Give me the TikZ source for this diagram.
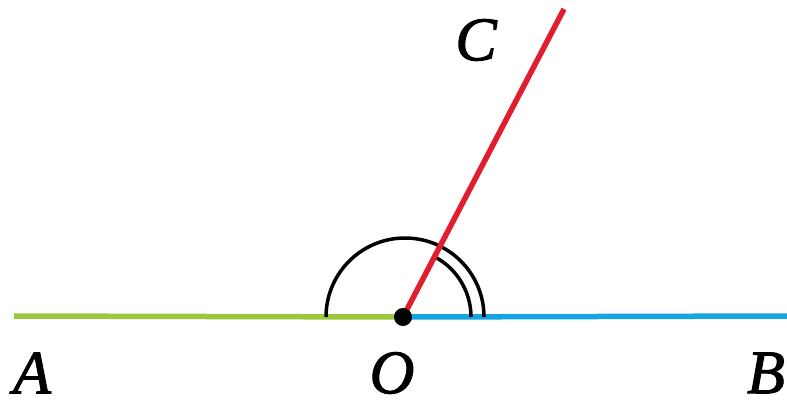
\documentclass[tikz,border=0pt]{standalone}
\usepackage{fontspec}
\setmainfont{Liberation Serif}
\newfontfamily\lblfont[FakeBold=1.6]{Liberation Serif}
\usetikzlibrary{calc}
\definecolor{lgreen}{RGB}{155,200,60}
\definecolor{lblue}{RGB}{20,165,225}
\definecolor{lred}{RGB}{225,30,45}
\begin{document}
\begin{tikzpicture}[x=1pt,y=-1pt,
  lbl/.style={font=\lblfont\fontsize{62}{62}\selectfont\itshape, inner sep=0pt},
  ray/.style={line width=5.5pt},
  arcline/.style={line width=3.5pt, black}]
\useasboundingbox (0,0) rectangle (787,405);
\coordinate (O) at (403,317);
\coordinate (A) at (14,316);
\coordinate (B) at (787,316);
\coordinate (C) at (564,9);
\draw[ray, lgreen] (A) -- (O);
\draw[ray, lblue] (O) -- (B);
\draw[arcline] ($(O)+(81,0)$) arc[start angle=0, end angle=-180, radius=79];
\draw[arcline] ($(O)+(68,0)$) arc[start angle=0, end angle=-62.3, radius=68];
\draw[ray, lred] (O) -- (C);
\fill[black] (O) circle (9);
\node[lbl] (la) at (32,373) {A};
\node[lbl] (lo) at (392,373) {O};
\node[lbl] (lb) at (766,373) {B};
\node[lbl] (lc) at (476,40) {C};
\end{tikzpicture}
\end{document}
